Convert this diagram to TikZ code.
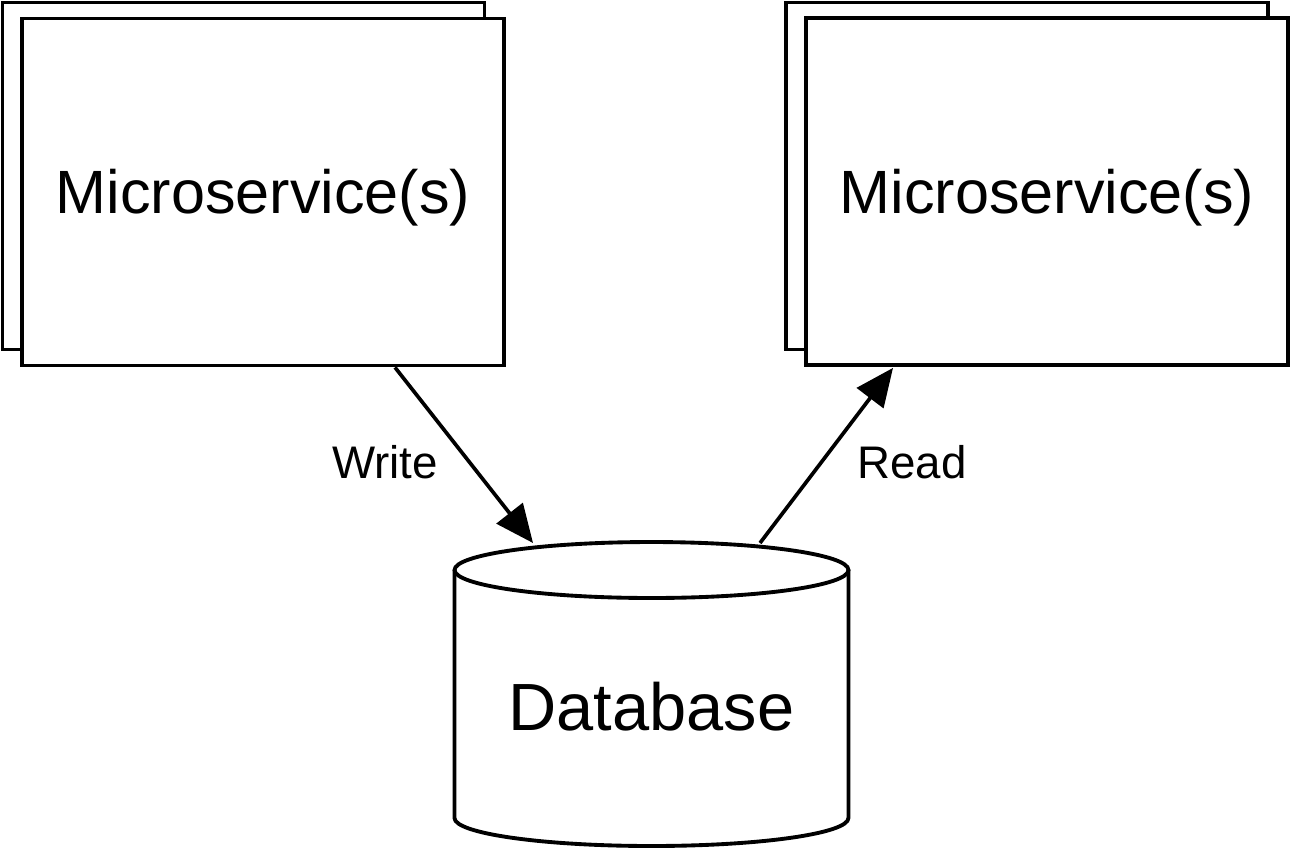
\documentclass[tikz,border=0pt]{standalone}
\usepackage{fontspec}
\setmainfont{Liberation Sans}
\usetikzlibrary{arrows.meta,calc}
\tikzset{
  msbox/.style={draw,line width=2.2pt,fill=white,minimum width=9.64cm,minimum height=6.94cm,inner sep=0pt,font=\fontsize{34.8}{42}\selectfont,text height=25pt,text depth=0pt},
  conn/.style={line width=2.1pt,-{Triangle[length=0.76cm,width=0.66cm]}},
  lbl/.style={font=\fontsize{26}{31}\selectfont}
}
\begin{document}
\begin{tikzpicture}[x=0.02cm,y=-0.02cm]
\useasboundingbox (0,0) rectangle (1291,849);

\node[msbox] (ms1back) at (243.5,176) {};
\node[msbox] (ms1) at (263,192) {Microservice(s)};
\node[msbox] (ms2back) at (1027,176) {};
\node[msbox] (ms2) at (1047,191.5) {Microservice(s)};

\draw[line width=2.2pt,fill=white] (454.5,570) -- (454.5,818) arc(180:360:3.94cm and 0.56cm) -- (848.5,570);
\draw[line width=2.2pt,fill=white] (651.5,570) ellipse [x radius=3.94cm,y radius=0.56cm];
\node[font=\fontsize{38}{45}\selectfont] (db) at (651.5,707) {Database};
\coordinate (dbw) at (533,543);
\coordinate (dbr) at (760,543);

\draw[conn] ($(ms1.south)+(132,0)$) -- (dbw);
\draw[conn] (dbr) -- ($(ms2.south)+(-154,1)$);
\node[lbl] (wlbl) at (385,462) {Write};
\node[lbl] (rlbl) at (912,462) {Read};
\end{tikzpicture}
\end{document}
